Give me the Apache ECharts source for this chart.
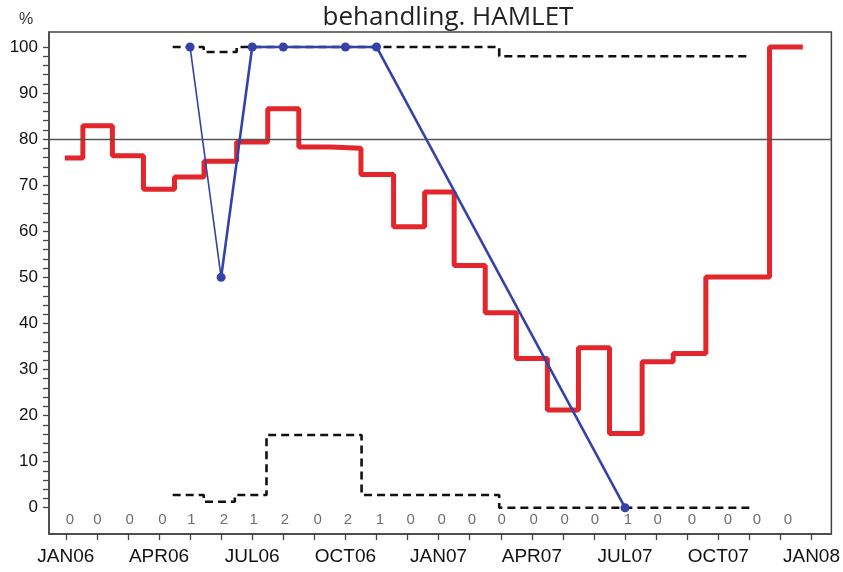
<!DOCTYPE html>
<html>
<head>
<meta charset="utf-8">
<script src="https://cdn.jsdelivr.net/npm/echarts@6/dist/echarts.min.js"></script>
<style>
  html, body { margin: 0; padding: 0; background: #fff; }
  #chart { width: 843px; height: 572px; }
</style>
</head>
<body>
<div id="chart"></div>
<script>
// x values are months counted from JAN06 (0) to JAN08 (24)
const tickLabels = ['JAN06', 'APR06', 'JUL06', 'OCT06', 'JAN07', 'APR07', 'JUL07', 'OCT07', 'JAN08']
const labelMonths = [0, 3, 6, 9, 12, 15, 18, 21, 24]

// red step line: start of each level, last point closes the line
const redX = [-0.03, 0.55, 1.5, 2.5, 3.5, 4.45, 5.5, 6.5, 7.5, 8.5, 9.5, 10.55, 11.55, 12.5, 13.5, 14.5, 15.5, 16.5, 17.5, 18.55, 19.55, 20.6, 22.65, 23.72]
const redY = [75.9, 82.9, 76.4, 69.1, 71.8, 75.2, 79.4, 86.6, 78.3, 78.0, 72.3, 61.0, 68.5, 52.6, 42.3, 32.4, 21.2, 34.7, 16.1, 31.7, 33.5, 50.1, 100, 100]

// blue line with points
const blueX = [4, 5, 6, 7, 9, 10, 18]
const blueY = [100, 50, 100, 100, 100, 100, 0]

// dashed limits
const upperX = [3.44, 4.44, 5.5, 13.95, 22.0]
const upperY = [100, 98.9, 100, 98, 98]
const lowerX = [3.44, 4.44, 5.44, 6.46, 9.52, 13.95, 22.0]
const lowerY = [2.75, 1.3, 2.75, 15.8, 2.75, 0, 0]

// numbers written along the bottom
const counts = [0, 0, 0, 0, 1, 2, 1, 2, 0, 2, 1, 0, 0, 0, 0, 0, 0, 0, 1, 0, 0, 0, 0, 0]
const countX = [0.13, 1.02, 2.06, 3.11, 4.04, 5.09, 6.05, 7.05, 8.11, 9.08, 10.11, 11.1, 12.1, 13.07, 14.03, 15.06, 16.06, 17.03, 18.09, 19.05, 20.15, 21.31, 22.24, 23.24]
const countRow = -2.7

const refLevel = 80
const yLabels = [0, 10, 20, 30, 40, 50, 60, 70, 80, 90, 100]

function pairs(xs, ys) {
  return xs.map((x, i) => [x, ys[i]])
}

const monthTicks = []
for (let m = 0; m <= 24; m++) monthTicks.push(m)
const yTicks = []
for (let v = 0; v <= 100; v += 2) yTicks.push(v)

const blue = pairs(blueX, blueY)
const chart = echarts.init(document.getElementById('chart'))

chart.setOption({
  animation: false,
  title: [
    {
      text: 'behandling. HAMLET',
      left: 443,
      top: 0,
      textAlign: 'center',
      textStyle: { fontFamily: 'Open Sans', fontSize: 26, fontWeight: 'normal', color: '#222' }
    },
    {
      text: '%',
      left: 14,
      top: 7,
      textStyle: { fontFamily: 'Liberation Sans', fontSize: 16, fontWeight: 'normal', color: '#333' }
    }
  ],
  grid: {
    left: 49,
    right: 11,
    top: 32,
    bottom: 38,
    show: true,
    borderColor: '#444',
    borderWidth: 1.5
  },
  xAxis: {
    type: 'value',
    min: -0.54,
    max: 24.64,
    axisLine: { show: true, onZero: false, lineStyle: { color: '#444', width: 1.5 } },
    axisTick: {
      show: true,
      customValues: monthTicks,
      length: 6,
      lineStyle: { color: '#444', width: 1.3 }
    },
    axisLabel: {
      customValues: labelMonths,
      margin: 13,
      fontFamily: 'Liberation Sans',
      fontSize: 19,
      color: '#111',
      formatter(value) {
        return tickLabels[labelMonths.indexOf(Math.round(value))] || ''
      }
    },
    splitLine: { show: false }
  },
  yAxis: {
    type: 'value',
    min: -5.7,
    max: 103.25,
    axisLine: { show: true, onZero: false, lineStyle: { color: '#444', width: 1.5 } },
    axisTick: {
      show: true,
      customValues: yTicks,
      length: 6,
      lineStyle: { color: '#444', width: 1.3 }
    },
    axisLabel: {
      customValues: yLabels,
      margin: 11,
      fontFamily: 'Liberation Sans',
      fontSize: 17,
      color: '#111'
    },
    splitLine: { show: false }
  },
  series: [
    {
      name: 'upper',
      type: 'line',
      step: 'end',
      showSymbol: false,
      data: pairs(upperX, upperY),
      lineStyle: { color: '#111', width: 2.6, type: [8, 5] },
      z: 2
    },
    {
      name: 'lower',
      type: 'line',
      step: 'end',
      showSymbol: false,
      data: pairs(lowerX, lowerY),
      lineStyle: { color: '#111', width: 2.6, type: [8, 5] },
      z: 2
    },
    {
      name: 'red',
      type: 'line',
      step: 'end',
      showSymbol: false,
      data: pairs(redX, redY),
      lineStyle: { color: '#e3262b', width: 5 },
      markLine: {
        silent: true,
        symbol: 'none',
        label: { show: false },
        lineStyle: { color: '#555', width: 1.3, type: 'solid' },
        data: [{ yAxis: refLevel }]
      },
      z: 3
    },
    {
      name: 'blue first',
      type: 'line',
      showSymbol: false,
      data: blue.slice(0, 2),
      lineStyle: { color: '#3343a8', width: 1.6 },
      z: 4
    },
    {
      name: 'blue',
      type: 'line',
      symbol: 'circle',
      symbolSize: 9,
      data: blue.slice(1),
      lineStyle: { color: '#3343a8', width: 2.6 },
      itemStyle: { color: '#3343a8' },
      z: 5
    },
    {
      name: 'blue start point',
      type: 'scatter',
      symbolSize: 9,
      data: blue.slice(0, 1),
      itemStyle: { color: '#3343a8', opacity: 1 },
      z: 5
    },
    {
      name: 'counts',
      type: 'scatter',
      symbolSize: 1,
      itemStyle: { color: 'rgba(0,0,0,0)' },
      data: countX.map((x, i) => [x, countRow, counts[i]]),
      label: {
        show: true,
        position: 'inside',
        fontFamily: 'Liberation Sans',
        fontSize: 15,
        color: '#4a4a4a',
        formatter(p) {
          return String(p.value[2])
        }
      },
      z: 6
    }
  ]
})
</script>
</body>
</html>
